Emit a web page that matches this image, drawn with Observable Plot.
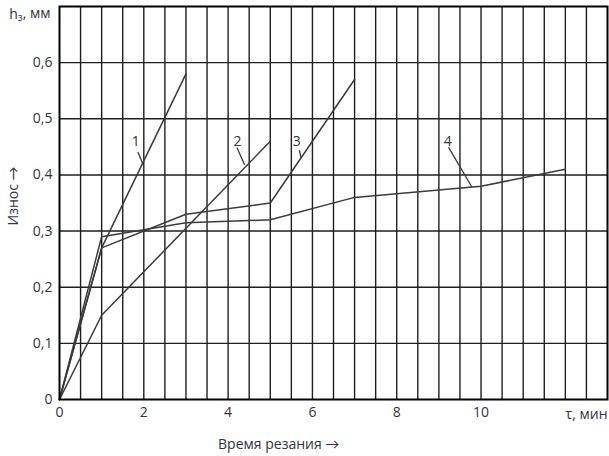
<!DOCTYPE html>
<html><head><meta charset="utf-8">
<script src="https://cdn.jsdelivr.net/npm/d3@7"></script>
<script src="https://cdn.jsdelivr.net/npm/@observablehq/plot@0.6"></script>
<style>body{margin:0;background:#fff;} svg{display:block}</style>
</head><body><div id="chart"></div>
<script>
// Data
const t1 = [0, 1, 3], h1 = [0, 0.27, 0.58];
const t2 = [0, 1, 5], h2 = [0, 0.15, 0.46];
const t3 = [0, 1, 3, 5, 7], h3 = [0, 0.27, 0.33, 0.35, 0.57];
const t4 = [0, 1, 3, 5, 7, 10, 12], h4 = [0, 0.29, 0.315, 0.32, 0.36, 0.38, 0.41];
const seriesNames = ["1", "2", "3", "4"];
const labelX = [1.81, 4.22, 5.63, 9.21];
const labelY = [0.46, 0.46, 0.46, 0.46];
const leadX1 = [1.86, 4.21, 5.69, 9.23], leadY1 = [0.441, 0.449, 0.444, 0.449];
const leadX2 = [1.97, 4.39, 5.73, 9.78], leadY2 = [0.421, 0.418, 0.431, 0.379];
const xTicks = [0, 2, 4, 6, 8, 10];
const yTicks = [0, 0.1, 0.2, 0.3, 0.4, 0.5, 0.6];
const xGrid = d3.range(1, 26).map(i => i / 2);
const yGrid = [0.1, 0.2, 0.3, 0.4, 0.5, 0.6];
const xTitle = "Время резания →", yTitle = "Износ →";
const yUnit = "hз, мм", xUnit = "τ, мин";

const series = [[t1, h1], [t2, h2], [t3, h3], [t4, h4]].flatMap(([t, h], i) =>
  t.map((x, j) => ({s: seriesNames[i], x, y: h[j]})));
const labels = seriesNames.map((s, i) => ({s, x: labelX[i], y: labelY[i], x1: leadX1[i], y1: leadY1[i], x2: leadX2[i], y2: leadY2[i]}));

const ink = "#2e3440";
const plot = Plot.plot({
  width: 609, height: 456,
  marginLeft: 59, marginRight: 2, marginTop: 6, marginBottom: 57,
  style: {fontFamily: "'Open Sans', Lato, sans-serif", fontSize: "14px", color: ink, background: "white"},
  x: {domain: [0, 13], ticks: xTicks, tickFormat: d => String(d), tickSize: 0, tickPadding: 8, label: null},
  y: {domain: [0, 0.7], ticks: yTicks, tickFormat: d => d === 0 ? "0" : d.toFixed(1).replace(".", ","), tickSize: 0, tickPadding: 7, label: null},
  marks: [
    Plot.ruleX(xGrid, {stroke: "#1e1e1e", strokeWidth: 1.4}),
    Plot.ruleY(yGrid, {stroke: "#1e1e1e", strokeWidth: 1.4}),
    Plot.line(series, {x: "x", y: "y", z: "s", stroke: "#3a3a3a", strokeWidth: 1.5}),
    Plot.link(labels, {x1: "x1", y1: "y1", x2: "x2", y2: "y2", stroke: "#3a3a3a", strokeWidth: 1.3}),
    Plot.text(labels, {x: "x", y: "y", text: "s", fill: ink, fontSize: 14, lineAnchor: "middle"}),
    Plot.frame({stroke: "#000", strokeWidth: 2}),
    Plot.text([yUnit], {frameAnchor: "top-left", text: d => d, dx: -9, dy: 8, textAnchor: "end", lineAnchor: "middle", fill: ink}),
    Plot.text([xUnit], {frameAnchor: "bottom-right", text: d => d, dy: 15, textAnchor: "end", lineAnchor: "middle", fill: ink}),
    Plot.text([xTitle], {x: [5.2], frameAnchor: "bottom", text: d => d, dy: 45, lineAnchor: "middle", fill: ink}),
    Plot.text([yTitle], {y: [0.31], frameAnchor: "left", text: d => d, dx: -46, rotate: -90, lineAnchor: "middle", fill: ink})
  ]
});
document.getElementById("chart").appendChild(plot);
// subscript for "з" in the y unit
d3.select(plot).selectAll("text").each(function() {
  if (this.textContent === yUnit) {
    const sel = d3.select(this);
    const tgt = sel.select("tspan").empty() ? sel : sel.select("tspan");
    tgt.text(null);
    tgt.append("tspan").text("h");
    tgt.append("tspan").attr("font-size", "10px").attr("dy", "0.25em").text("з");
    tgt.append("tspan").attr("dy", "-0.25em").text(", мм");
  }
});
</script></body></html>
